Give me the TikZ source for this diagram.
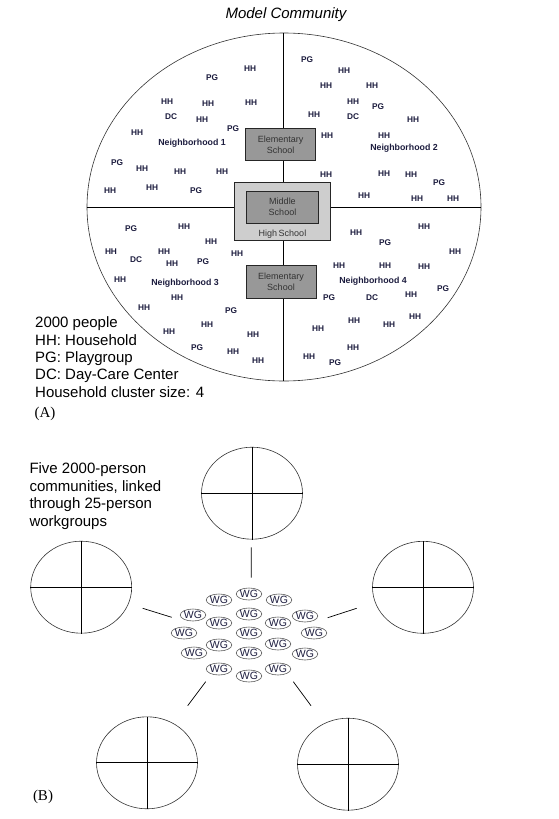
\documentclass[tikz,border=0pt]{standalone}
\usepackage{fontspec}
\setmainfont{Liberation Serif}
\setsansfont{Liberation Sans}
\usetikzlibrary{shapes.geometric}
\definecolor{ink}{RGB}{28,28,62}
\definecolor{boxgray}{RGB}{152,152,152}
\definecolor{hsgray}{RGB}{206,206,206}
\tikzset{
  hhlbl/.style={font=\sffamily\bfseries\fontsize{8.3}{9}\selectfont, text=ink, inner sep=0pt},
  hoodlbl/.style={hhlbl, font=\sffamily\bfseries\fontsize{8.8}{10}\selectfont},
  schoolbox/.style={draw=black!85, fill=boxgray, line width=0.8pt, inner sep=0pt,
    align=center, text=black!80, font=\sffamily\fontsize{9}{11}\selectfont},
  bigtext/.style={font=\sffamily\fontsize{15}{17.4}\selectfont, inner sep=0pt, align=left, anchor=west},
  panellbl/.style={font=\rmfamily\fontsize{15}{18}\selectfont, inner sep=0pt},
  community/.style={draw=black!80, ellipse, inner sep=0pt, line width=0.6pt},
  wg/.style={draw=black!65, line width=0.6pt, ellipse, minimum width=23pt, minimum height=12pt, inner sep=0pt,
    text=ink, font=\sffamily\fontsize{10.5}{11}\selectfont},
  link/.style={black, line width=0.7pt}
}
\begin{document}
\begin{tikzpicture}[x=1pt, y=-1pt]
\useasboundingbox (0,0) rectangle (558,819);
% ---- panel A: model community
\node[font=\sffamily\itshape\fontsize{15}{18}\selectfont, inner sep=0pt] (title) at (286,15) {Model Community};
\node[community, minimum width=394pt, minimum height=348pt] (town) at (284,207) {};
\draw[link] (town.north -| 283,0) -- (town.south -| 283,0);
\draw[link] (town.west) -- (town.east);
% schools sit on the cross
\node[schoolbox, minimum width=70pt, minimum height=32.4pt] (elemN) at (280.7,144.5) {Elementary\\School};
\node[schoolbox, fill=hsgray, minimum width=96.4pt, minimum height=58pt] (high) at (282.5,211) {};
\node[schoolbox, minimum width=72.4pt, minimum height=32.3pt] (middle) at (282.5,207.2) {Middle\\School};
\node[font=\sffamily\fontsize{9}{11}\selectfont, text=black!80, inner sep=0pt] (highlbl) at (282.5,234) {High\,School};
\node[schoolbox, minimum width=70pt, minimum height=33pt] (elemS) at (281,281.8) {Elementary\\School};
% households, playgroups, day-care
\foreach \x/\y [count=\i] in {250/69, 167/102, 208/104, 251/103, 202/120, 137/133, 142/169, 180/172,
    222/172, 110/191, 152/188,
    344/71, 326/86, 372/86, 353/102, 314/115, 413/120, 327/136, 384/136, 326/175, 384/174,
    411/175, 364/196, 417/199, 453/199,
    184/227, 211/242, 111/252, 164/252, 172/264, 237/254, 120/280, 177/298, 144/308, 207/325,
    169/332, 253/335, 233/352, 258/361,
    424/227, 356/233, 455/252, 339/266, 385/266, 424/267, 411/295, 415/317, 354/321, 389/325,
    318/329, 353/348, 309/357}
  \node[hhlbl] (hh\i) at (\x,\y) {HH};
\foreach \x/\y [count=\i] in {212/78, 233/129, 117/163, 196/191, 307/60, 378/107, 439/183,
    131/229, 203/262, 231/311, 197/348, 385/243, 443/289, 329/298, 335/363}
  \node[hhlbl] (pg\i) at (\x,\y) {PG};
\foreach \x/\y [count=\i] in {171/117, 353/117, 136/260, 372/298}
  \node[hhlbl] (dc\i) at (\x,\y) {DC};
\foreach \n/\x/\y in {1/192/143, 2/404/148, 3/185/283, 4/373/281}
  \node[hoodlbl] (hood\n) at (\x,\y) {Neighborhood \n};
\node[bigtext] (legend) at (35,357.2)
  {2000 people\\HH: Household\\PG: Playgroup\\DC: Day-Care Center\\Household cluster size: 4};
\node[panellbl] (panelA) at (45,414) {(A)};
% ---- panel B: five linked communities
\node[bigtext, font=\sffamily\fontsize{15}{17.6}\selectfont] (blurb) at (29.3,496.3)
  {Five 2000-person\\communities, linked\\through 25-person\\workgroups};
\foreach \n/\x/\y in {1/252/493.2, 2/81.2/587.2, 3/423/587.3, 4/147/762.8, 5/348/764.2} {
  \node[community, minimum width=101pt, minimum height=92pt] (comm\n) at (\x,\y) {};
  \draw[link] (comm\n.north) -- (comm\n.south) (comm\n.west) -- (comm\n.east);
}
\foreach \x/\y [count=\i] in {219/600, 249/594, 279/600, 193/615, 249/614, 305/616, 219/623, 278/623,
    184/633, 249/633, 314/633, 219/645, 278/644, 194/653, 249/653, 305/654, 219/669, 249/676, 278/669}
  \node[wg] (wg\i) at (\x,\y) {WG};
\coordinate (topA) at (251.3,547.3);   \coordinate (topB) at (251.3,577.7);
\coordinate (leftA) at (142.7,608.3);  \coordinate (leftB) at (171.7,617.3);
\coordinate (rightA) at (356.7,608.3); \coordinate (rightB) at (327.7,617.7);
\coordinate (blA) at (187.7,705.7);    \coordinate (blB) at (205.7,681.7);
\coordinate (brA) at (311,705.7);      \coordinate (brB) at (293.3,681.7);
\draw[link] (topA) -- (topB) (leftA) -- (leftB) (rightA) -- (rightB) (blA) -- (blB) (brA) -- (brB);
\node[panellbl] (panelB) at (43,797) {(B)};
\end{tikzpicture}
\end{document}
